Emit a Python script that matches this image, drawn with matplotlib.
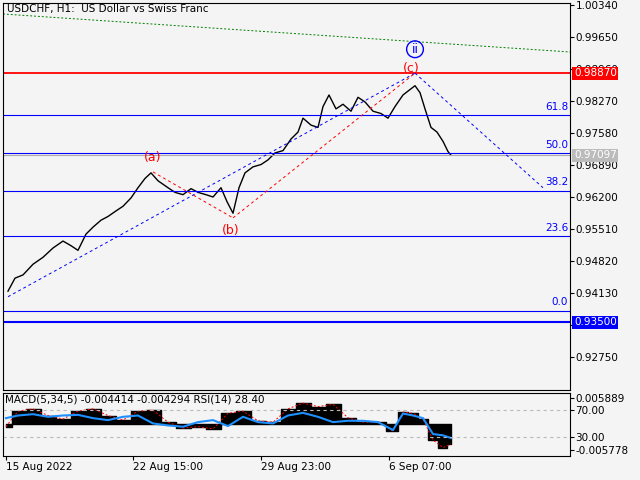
import matplotlib
matplotlib.use("Agg")
import matplotlib.pyplot as plt
import numpy as np

bg = "#f4f4f4"
# price path (bar index, close)
bars = [5, 12, 20, 30, 40, 50, 60, 68, 75, 83, 90, 98, 105, 113, 120, 128, 135, 142, 148, 155, 165, 172, 180, 188, 195, 203, 210, 218, 224, 230, 236, 242, 250, 258, 265, 272, 280, 288, 295, 300, 308, 315, 320, 326, 333, 340, 348, 355, 362, 370, 378, 385, 392, 400, 406, 412, 417, 422, 428, 434, 440, 445, 448]
closes = [0.9417, 0.9445, 0.9452, 0.9475, 0.9490, 0.9510, 0.9525, 0.9515, 0.9505, 0.9540, 0.9555, 0.9570, 0.9578, 0.9590, 0.9600, 0.9618, 0.9640, 0.9660, 0.9672, 0.9655, 0.9640, 0.9630, 0.9625, 0.9638, 0.9630, 0.9625, 0.9620, 0.9640, 0.9610, 0.9585, 0.9640, 0.9672, 0.9685, 0.9690, 0.9700, 0.9715, 0.9720, 0.9745, 0.9760, 0.9790, 0.9775, 0.9770, 0.9815, 0.9840, 0.9810, 0.9820, 0.9805, 0.9835, 0.9825, 0.9805, 0.9800, 0.9790, 0.9815, 0.9840, 0.9850, 0.9860, 0.9845, 0.9810, 0.9770, 0.9760, 0.9740, 0.9718, 0.9710]

fib_levels = [0.9374, 0.9535, 0.9634, 0.9714, 0.9796]
fib_names = ["0.0", "23.6", "38.2", "50.0", "61.8"]
resist = 0.98870
support = 0.93500
current = 0.97097

right_ticks = [1.00340, 0.99650, 0.98960, 0.98270, 0.97580, 0.96890, 0.96200, 0.95510, 0.94820, 0.94130, 0.93440, 0.92750]
date_pos = [3, 130, 258, 386]
date_labels = ["15 Aug 2022", "22 Aug 15:00", "29 Aug 23:00", "6 Sep 07:00"]

# indicator values
ind_x = [3, 15, 30, 45, 60, 75, 90, 105, 120, 135, 150, 165, 180, 195, 210, 225, 240, 255, 270, 285, 300, 315, 330, 345, 360, 375, 390, 400, 410, 420, 430, 440, 448]
macd = [-0.0005, 0.0030, 0.0035, 0.0020, 0.0012, 0.0030, 0.0035, 0.0020, 0.0010, 0.0030, 0.0032, 0.0005, -0.0008, -0.0005, -0.0010, 0.0025, 0.0030, 0.0008, 0.0005, 0.0035, 0.0048, 0.0040, 0.0045, 0.0015, 0.0005, 0.0006, -0.0015, 0.0028, 0.0025, 0.0012, -0.0035, -0.0052, -0.0044]
rsi = [58, 62, 64, 60, 62, 63, 58, 55, 60, 62, 50, 47, 45, 52, 55, 46, 60, 52, 50, 62, 66, 60, 52, 54, 54, 52, 40, 65, 62, 58, 34, 32, 28]

W, H = 640, 480
fig = plt.figure(figsize=(6.4, 4.8), dpi=100, facecolor=bg)
L, R = 3 / W, 570 / W
ax = fig.add_axes([L, 1 - 390 / H, R - L, (390 - 3) / H], facecolor=bg)
ppu = (357 - 5) / (1.00340 - 0.92750)
top = 1.00340 + 2 / ppu
bot = 0.92750 - 33 / ppu
ax.set_ylim(bot, top)
ax.set_xlim(0, 567)

ax.plot(bars, closes, color="black", lw=1.0)
for lv, nm in zip(fib_levels, fib_names):
    ax.axhline(lv, color="blue", lw=0.8)
    ax.text(565, lv + 0.0008, nm, color="blue", fontsize=7.5, ha="right", va="bottom")
ax.axhline(resist, color="red", lw=1.3)
ax.axhline(support, color="blue", lw=1.5)
ax.axhline(current, color="#aaaaaa", lw=0.8)

# wave lines
ax.plot([5, 412], [0.9405, resist], color="blue", ls=(0, (3, 3)), lw=0.7)
ax.plot([412, 540], [resist, 0.9640], color="blue", ls=(0, (3, 3)), lw=0.7)
ax.plot([150, 230], [0.9674, 0.9575], color="red", ls=(0, (3, 3)), lw=0.7)
ax.plot([230, 412], [0.9575, resist], color="red", ls=(0, (3, 3)), lw=0.7)
ax.plot([0, 567], [1.00340 - 9 / ppu, 1.00340 - 47 / ppu], color="green", ls=(0, (2, 2)), lw=0.7)
ax.text(150, 0.9672 + 0.0025, "(a)", color="red", fontsize=9, ha="center")
ax.text(228, 0.9562, "(b)", color="red", fontsize=9, ha="center", va="top")
ax.text(408, resist + 0.0002, "(c)", color="red", fontsize=9, ha="center")
ax.text(412, 0.99386, "ii", color="blue", fontsize=9, ha="center", va="center",
        bbox=dict(boxstyle="circle,pad=0.15", fc="none", ec="blue", lw=1))
ax.text(4, top - 0.0003, "USDCHF, H1:  US Dollar vs Swiss Franc", fontsize=7.5, va="top")

ax.yaxis.tick_right()
ax.set_yticks(right_ticks)
ax.set_yticklabels([f"{t:.5f}" for t in right_ticks], fontsize=7.5)
ax.tick_params(axis="y", length=3, pad=1)
ax.set_xticks([])
for lv, c, tc in [(resist, "red", "white"), (support, "blue", "white"), (current, "#bbbbbb", "white")]:
    ax.text(1.007, lv, f"{lv:.5f}", transform=ax.get_yaxis_transform(), color=tc, fontsize=7.5,
            va="center", ha="left", bbox=dict(boxstyle="square,pad=0.15", fc=c, ec="none"), clip_on=False)

ax2 = fig.add_axes([L, 1 - 456 / H, R - L, (456 - 393) / H], facecolor=bg)
ax2.set_xlim(0, 567)
ax2.set_ylim(0.8, 96)
zero = 48.5
k = 6731
mscaled = [zero + m * k for m in macd]
ax2.fill_between(ind_x, zero, mscaled, color="black", step="mid")
ax2.plot(ind_x, mscaled, color="red", ls=(0, (2, 2)), lw=0.7)
ax2.plot(ind_x, rsi, color="#1e90ff", lw=1.5)
for v in (70, 30):
    ax2.axhline(v, color="#bbbbbb", ls=(0, (3, 3)), lw=0.8)
ax2.text(2, 93, "MACD(5,34,5) -0.004414 -0.004294 RSI(14) 28.40", fontsize=7.5, va="top")
ax2.yaxis.tick_right()
yt = [zero + 0.005889 * k, 70, 30, zero - 0.005778 * k]
ax2.set_yticks(yt)
ax2.set_yticklabels(["0.005889", "70.00", "30.00", "-0.005778"], fontsize=7.5)
ax2.tick_params(axis="y", length=3, pad=1)
ax2.set_xticks(date_pos)
ax2.set_xticklabels(date_labels, fontsize=7.5, ha="left")
ax2.tick_params(axis="x", length=3, pad=1)

fig.savefig("out.png", dpi=100, facecolor=bg)
